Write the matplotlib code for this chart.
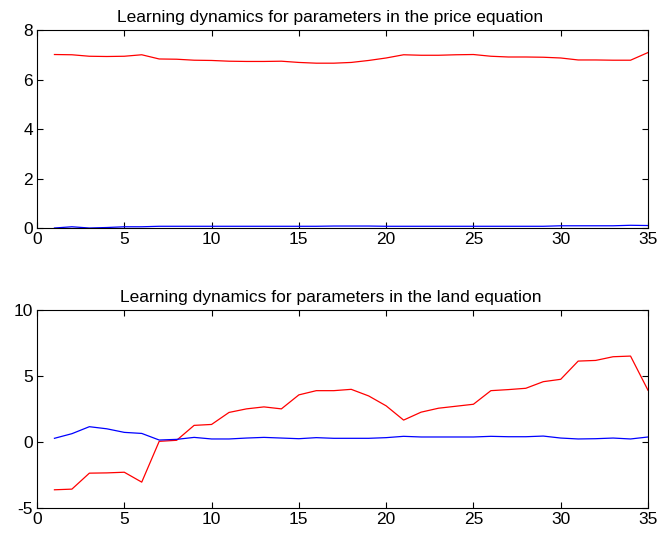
import matplotlib
matplotlib.use("Agg")
import matplotlib.pyplot as plt
import numpy as np

plt.rcParams['font.family'] = ['Liberation Sans', 'DejaVu Sans']
plt.rcParams['axes.unicode_minus'] = False

x = list(range(1, 36))

price_red = [7.01, 7.00, 6.94, 6.93, 6.94, 7.00, 6.83, 6.82, 6.78, 6.77,
             6.74, 6.73, 6.73, 6.74, 6.69, 6.66, 6.66, 6.69, 6.77, 6.87,
             7.00, 6.98, 6.98, 7.00, 7.01, 6.94, 6.91, 6.91, 6.90, 6.87,
             6.79, 6.79, 6.78, 6.78, 7.09]
price_blue = [0.00, 0.05, 0.00, 0.02, 0.05, 0.05, 0.07, 0.07, 0.07, 0.07,
              0.07, 0.07, 0.07, 0.07, 0.07, 0.07, 0.08, 0.08, 0.08, 0.07,
              0.07, 0.07, 0.07, 0.07, 0.07, 0.07, 0.07, 0.07, 0.07, 0.09,
              0.09, 0.09, 0.09, 0.11, 0.10]

land_red = [-3.62, -3.57, -2.36, -2.34, -2.29, -3.04, 0.05, 0.13, 1.26, 1.33,
            2.24, 2.51, 2.66, 2.51, 3.57, 3.89, 3.89, 3.99, 3.49, 2.74,
            1.66, 2.26, 2.56, 2.71, 2.86, 3.89, 3.97, 4.07, 4.57, 4.75,
            6.13, 6.18, 6.46, 6.51, 3.92]
land_blue = [0.28, 0.63, 1.16, 1.00, 0.73, 0.65, 0.15, 0.20, 0.35, 0.23,
             0.23, 0.30, 0.35, 0.30, 0.25, 0.33, 0.28, 0.28, 0.28, 0.33,
             0.43, 0.38, 0.38, 0.38, 0.38, 0.43, 0.40, 0.40, 0.45, 0.30,
             0.23, 0.25, 0.30, 0.23, 0.38]

titles = ["Learning dynamics for parameters in the price equation",
          "Learning dynamics for parameters in the land equation"]
xticks = [0, 5, 10, 15, 20, 25, 30, 35]
yticks_top = [0, 2, 4, 6, 8]
yticks_bot = [-5, 0, 5, 10]

fig = plt.figure(figsize=(6.57, 5.37), dpi=100)
ax1 = fig.add_axes([0.0563, 0.5754, 0.930, 0.3687])
ax2 = fig.add_axes([0.0563, 0.0540, 0.930, 0.3687])

def style(ax):
    ax.tick_params(direction='in', length=4, width=0.8, top=True, right=True,
                   labelsize=12.5, pad=3)
    for s in ax.spines.values():
        s.set_linewidth(0.8)

ax1.plot(x, price_red, color='red', lw=0.9)
ax1.plot(x, price_blue, color='blue', lw=0.9)
ax1.set_xlim(0, 35)
ax1.set_ylim(0, 8)
ax1.set_xticks(xticks)
ax1.set_yticks(yticks_top)
ax1.set_title(titles[0], fontsize=12.5, pad=6, x=0.48)
style(ax1)

ax2.plot(x, land_red, color='red', lw=0.9)
ax2.plot(x, land_blue, color='blue', lw=0.9)
ax2.set_xlim(0, 35)
ax2.set_ylim(-5, 10)
ax2.set_xticks(xticks)
ax2.set_yticks(yticks_bot)
ax2.set_title(titles[1], fontsize=12.5, pad=6, x=0.48)
style(ax2)

fig.savefig("out.png", dpi=100)
